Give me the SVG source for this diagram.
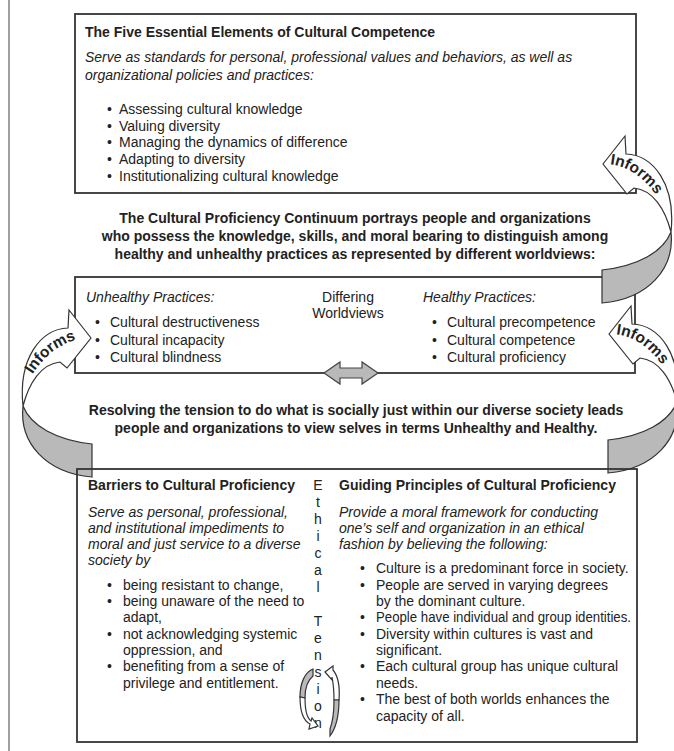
<svg xmlns="http://www.w3.org/2000/svg" xmlns:xlink="http://www.w3.org/1999/xlink" width="674" height="751" viewBox="0 0 674 751">
<style>
.box{fill:#fff;stroke:#333;stroke-width:1.8}
.t{font-family:"Liberation Sans",Arial,sans-serif;font-size:14px;fill:#222}
.b{font-weight:bold}
.i{font-style:italic}
.c{text-anchor:middle}
.rw{fill:#fff;stroke:#333;stroke-width:1.2;stroke-linejoin:miter}
.rg{fill:#b9b9b9;stroke:#333;stroke-width:1.2}
.inf{font-family:"Liberation Sans",Arial,sans-serif;font-size:15.5px;font-weight:bold;fill:#222}
</style>
<defs>
<g id="ribbon">
<path class="rg" d="M68,68 C72,105 45,135 -1,139 L-1,106 C35,102 60,88 68,68 Z"/>
<path class="rw" d="M0,0 L22,-28 L23,-10 C50,-9 73,20 68,68 C62,45 50,26 31,24 L24,30 Z"/>
</g>
<path id="tp1" d="M607,164 C626,165 646,177 661,203"/>
<path id="tp2" d="M613,334 C632,335 652,347 667,373"/>
<path id="tp3" d="M31,377 C47,350 68,339 89,338"/>
</defs>
<line x1="9" y1="0" x2="9" y2="751" stroke="#a0a0a0" stroke-width="2"/>

<g id="five-elements">
<rect class="box" x="75" y="14" width="561" height="179"/>
<text class="t b" x="85" y="37">The Five Essential Elements of Cultural Competence</text>
<text class="t i" x="85" y="62">Serve as standards for personal, professional values and behaviors, as well as</text>
<text class="t i" x="85" y="80">organizational policies and practices:</text>
<text class="t" x="107" y="114">•</text><text class="t" x="119" y="114">Assessing cultural knowledge</text>
<text class="t" x="107" y="131">•</text><text class="t" x="119" y="131">Valuing diversity</text>
<text class="t" x="107" y="147">•</text><text class="t" x="119" y="147">Managing the dynamics of difference</text>
<text class="t" x="107" y="164">•</text><text class="t" x="119" y="164">Adapting to diversity</text>
<text class="t" x="107" y="181">•</text><text class="t" x="119" y="181">Institutionalizing cultural knowledge</text>
</g>

<g id="continuum-text">
<text class="t b c" x="355" y="223">The Cultural Proficiency Continuum portrays people and organizations</text>
<text class="t b c" x="355" y="241">who possess the knowledge, skills, and moral bearing to distinguish among</text>
<text class="t b c" x="355" y="259">healthy and unhealthy practices as represented by different worldviews:</text>
</g>

<g id="worldviews">
<rect class="box" x="75" y="277" width="560" height="96"/>
<text class="t i" x="86" y="302">Unhealthy Practices:</text>
<text class="t c" x="348" y="302">Differing</text>
<text class="t c" x="348" y="318">Worldviews</text>
<text class="t i" x="423" y="302">Healthy Practices:</text>
<text class="t" x="95" y="327">•</text><text class="t" x="110" y="327">Cultural destructiveness</text>
<text class="t" x="95" y="345">•</text><text class="t" x="110" y="345">Cultural incapacity</text>
<text class="t" x="95" y="362">•</text><text class="t" x="110" y="362">Cultural blindness</text>
<text class="t" x="432" y="327">•</text><text class="t" x="447" y="327">Cultural precompetence</text>
<text class="t" x="432" y="345">•</text><text class="t" x="447" y="345">Cultural competence</text>
<text class="t" x="432" y="362">•</text><text class="t" x="447" y="362">Cultural proficiency</text>
<path d="M324,373 L340,362 L340,368 L362,368 L362,362 L378,373 L362,384 L362,378 L340,378 L340,384 Z" fill="#b9b9b9" stroke="#444" stroke-width="1.2"/>
</g>

<g id="resolving-text">
<text class="t b c" x="356" y="415">Resolving the tension to do what is socially just within our diverse society leads</text>
<text class="t b c" x="356" y="433">people and organizations to view selves in terms Unhealthy and Healthy.</text>
</g>

<g id="connectors">
<use xlink:href="#ribbon" transform="translate(603,164)"/>
<text class="inf"><textPath xlink:href="#tp1" startOffset="3">Informs</textPath></text>
<use xlink:href="#ribbon" transform="translate(609,334)"/>
<text class="inf"><textPath xlink:href="#tp2" startOffset="3">Informs</textPath></text>
<use xlink:href="#ribbon" transform="translate(91,338) scale(-1,1)"/>
<text class="inf"><textPath xlink:href="#tp3" startOffset="3">Informs</textPath></text>
</g>

<g id="barriers-principles">
<rect x="77" y="469" width="560" height="273" fill="none" stroke="#333" stroke-width="1.8"/>
<text class="t b" x="88" y="490">Barriers to Cultural Proficiency</text>
<text class="t i" x="88" y="517">Serve as personal, professional,</text>
<text class="t i" x="88" y="533">and institutional impediments to</text>
<text class="t i" x="88" y="549">moral and just service to a diverse</text>
<text class="t i" x="88" y="565">society by</text>
<text class="t" x="107" y="590">•</text><text class="t" x="123" y="590">being resistant to change,</text>
<text class="t" x="107" y="606">•</text><text class="t" x="123" y="606">being unaware of the need to</text>
<text class="t" x="123" y="622">adapt,</text>
<text class="t" x="107" y="639">•</text><text class="t" x="123" y="639">not acknowledging systemic</text>
<text class="t" x="123" y="655">oppression, and</text>
<text class="t" x="107" y="671">•</text><text class="t" x="123" y="671">benefiting from a sense of</text>
<text class="t" x="123" y="688">privilege and entitlement.</text>
<text class="t b" x="339" y="490">Guiding Principles of Cultural Proficiency</text>
<text class="t i" x="339" y="517">Provide a moral framework for conducting</text>
<text class="t i" x="339" y="533">one’s self and organization in an ethical</text>
<text class="t i" x="339" y="549">fashion by believing the following:</text>
<text class="t" x="360" y="573">•</text><text class="t" x="376" y="573">Culture is a predominant force in society.</text>
<text class="t" x="360" y="590">•</text><text class="t" x="376" y="590">People are served in varying degrees</text>
<text class="t" x="376" y="606">by the dominant culture.</text>
<text class="t" x="360" y="622">•</text><text class="t" x="376" y="622" textLength="255" lengthAdjust="spacingAndGlyphs">People have individual and group identities.</text>
<text class="t" x="360" y="639">•</text><text class="t" x="376" y="639">Diversity within cultures is vast and</text>
<text class="t" x="376" y="655">significant.</text>
<text class="t" x="360" y="671">•</text><text class="t" x="376" y="671">Each cultural group has unique cultural</text>
<text class="t" x="376" y="688">needs.</text>
<text class="t" x="360" y="704">•</text><text class="t" x="376" y="704">The best of both worlds enhances the</text>
<text class="t" x="376" y="721">capacity of all.</text>
</g>

<g id="ethical-tension">
<text class="t c" x="318" y="490">E</text>
<text class="t c" x="318" y="507">t</text>
<text class="t c" x="318" y="524">h</text>
<text class="t c" x="318" y="541">i</text>
<text class="t c" x="318" y="558">c</text>
<text class="t c" x="318" y="575">a</text>
<text class="t c" x="318" y="592">l</text>
<text class="t c" x="318" y="626">T</text>
<text class="t c" x="318" y="643">e</text>
<text class="t c" x="318" y="660">n</text>
<text class="t c" x="318" y="677">s</text>
<text class="t c" x="318" y="694">i</text>
<text class="t c" x="318" y="711">o</text>
<text class="t c" x="318" y="728">n</text>
<path class="rg" d="M313,669 C305,672 300,683 300,697 L305,698 C305,688 308,680 313,676 Z"/>
<path class="rw" d="M300,697 C300,712 304,721 310,724 L309,729 L318,726 L312,718 L311,721 C307,718 305,709 305,698 Z"/>
<path class="rw" d="M325,672 L333,666 L333,670 C338,676 340,687 339,700 L334,700 C334,690 333,682 332,677 L332,680 Z"/>
<path class="rg" d="M339,700 C339,716 336,728 330,736 L330,729 C333,721 334,712 334,700 Z"/>
</g>
</svg>
